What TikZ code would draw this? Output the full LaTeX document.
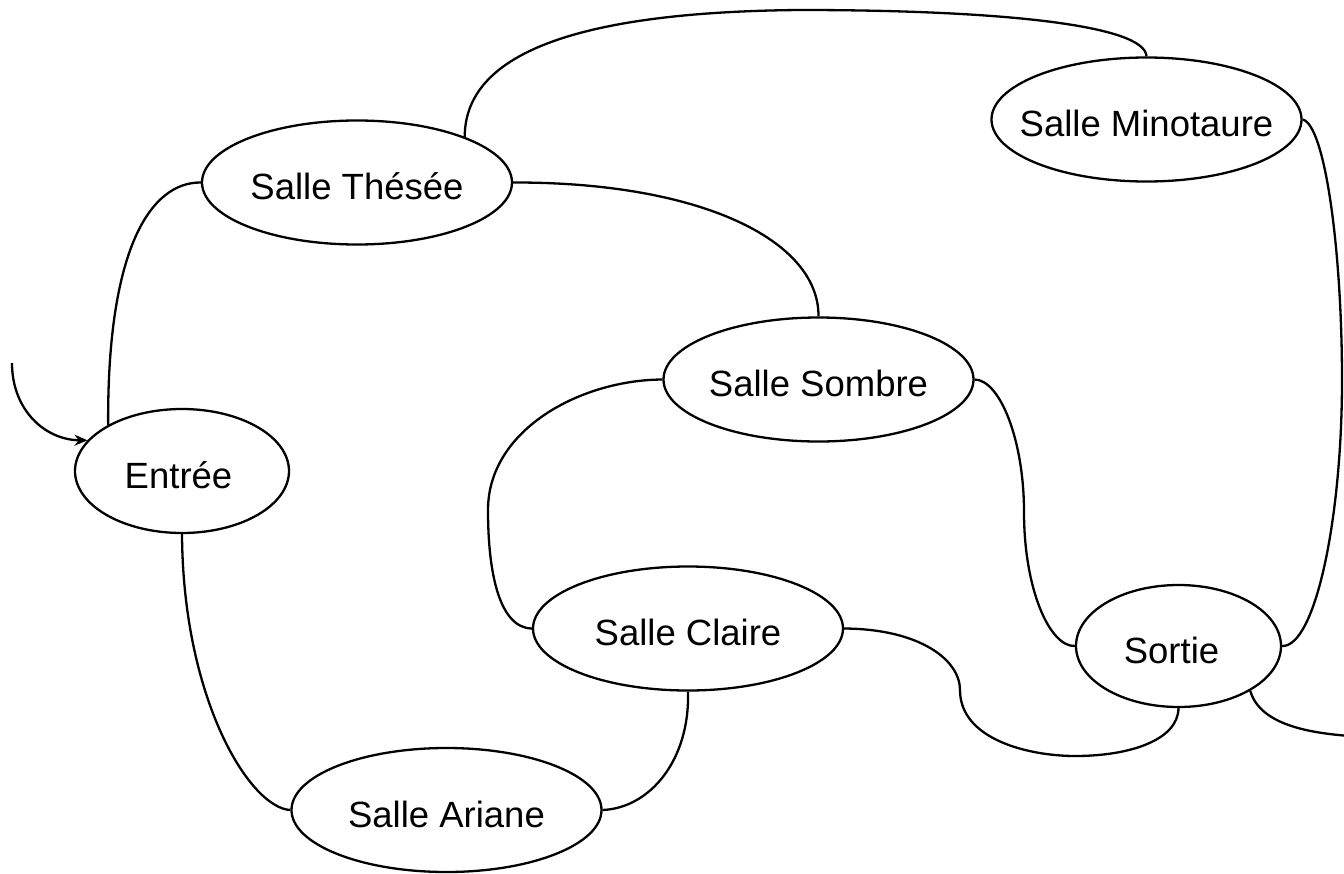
\documentclass[tikz,border=0pt]{standalone}
\usepackage{fontspec}
\setmainfont{Liberation Sans}
\usetikzlibrary{shapes.geometric,arrows.meta}
\begin{document}
\begin{tikzpicture}[x=1pt,y=-1pt,
  room/.style={ellipse, draw, line width=2.3pt, fill=white,
    minimum width=310pt, minimum height=124pt, inner sep=0pt,
    font=\fontsize{36.5}{40}\selectfont, text height=40pt, text depth=6pt},
  link/.style={line width=2.3pt},
  startarrow/.style={line width=2.3pt, -{Stealth[length=13pt,width=11pt]}}]
\useasboundingbox (0,0) rectangle (1344,873);

\node[room, minimum width=214pt] (entree) at (182,471) {\makebox[0pt]{\hspace{-7pt}Entrée}};
\node[room] (thesee) at (357,182.5) {\makebox[0pt]{Salle Thésée}};
\node[room] (minotaure) at (1146.5,119.5) {\makebox[0pt]{Salle Minotaure}};
\node[room] (sombre) at (818.5,379.5) {\makebox[0pt]{Salle Sombre}};
\node[room] (claire) at (688,628.5) {\makebox[0pt]{Salle Claire}};
\node[room] (ariane) at (446.5,810) {\makebox[0pt]{Salle Ariane}};
\node[room, minimum width=205pt, minimum height=122pt] (sortie) at (1178.5,646) {\makebox[0pt]{\hspace{-14pt}Sortie}};

\coordinate (start) at (12,363);
\coordinate (offright) at (1350,736);

\draw[startarrow] (start) .. controls (12,410) and (45,440) .. (entree.162);

\draw[link] (entree.148) .. controls (107,250) and (150,182) .. (thesee.west);
\draw[link] (entree.south) .. controls (183,700) and (250,808) .. (ariane.west);
\draw[link] (ariane.east) .. controls (650,808) and (690,760) .. (claire.south);
\draw[link] (claire.west) .. controls (500,628) and (488,575) .. (488,510)
   .. controls (488,430) and (580,380) .. (sombre.west);
\draw[link] (thesee.east) .. controls (700,182) and (819,240) .. (sombre.north);
\draw[link] (thesee.23) .. controls (465,60) and (560,12) .. (800,10)
   .. controls (1000,10) and (1145,25) .. (minotaure.north);
\draw[link] (minotaure.east) .. controls (1325,125) and (1342,250) .. (1342,380)
   .. controls (1342,520) and (1315,647) .. (sortie.east);
\draw[link] (sombre.east) .. controls (1000,380) and (1024,440) .. (1024,512)
   .. controls (1024,590) and (1050,647) .. (sortie.west);
\draw[link] (claire.east) .. controls (920,629) and (960,660) .. (960,690)
   .. controls (960,740) and (1030,756) .. (1075,756)
   .. controls (1130,756) and (1178,740) .. (sortie.south);
\draw[link] (sortie.-32) .. controls (1260,725) and (1310,733) .. (offright);
\end{tikzpicture}
\end{document}
